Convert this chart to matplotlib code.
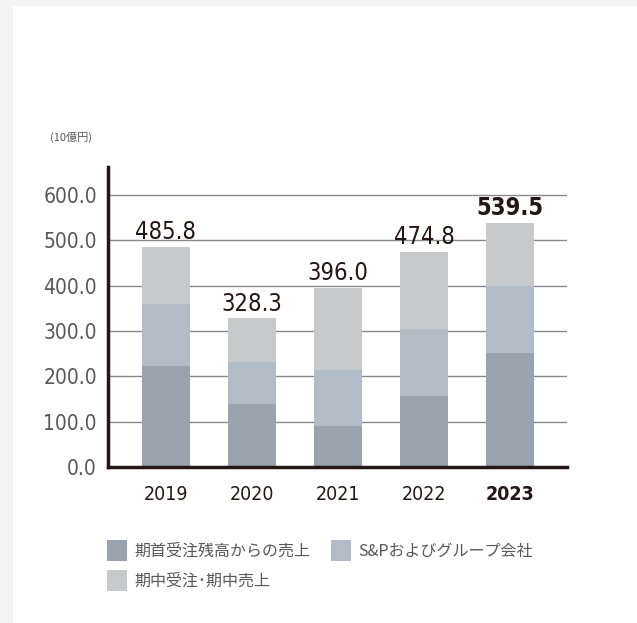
import numpy as np
import matplotlib.pyplot as plt
from matplotlib.patches import Rectangle

plt.rcParams['font.family'] = ['DejaVu Sans']
plt.rcParams['font.stretch'] = 'condensed'

years = ['2019', '2020', '2021', '2022', '2023']
totals = [485.8, 328.3, 396.0, 474.8, 539.5]
backlog = [223, 139, 90, 157, 252]      # 期首受注残高からの売上
group = [137, 93, 124, 148, 148]        # S&Pおよびグループ会社
inperiod = [t - b - g for t, b, g in zip(totals, backlog, group)]  # 期中受注・期中売上

labels = ['期首受注残高からの売上', 'S&Pおよびグループ会社', '期中受注･期中売上']
colors = ['#98a3ae', '#b1bcc6', '#c8c9cb']
yticks = [0, 100, 200, 300, 400, 500, 600]

W, H = 637, 623
fig = plt.figure(figsize=(W / 100, H / 100), dpi=100)
fig.patch.set_facecolor('#f3f3f3')
fig.patches.append(Rectangle((13 / W, 0), 1, 1 - 6 / H, transform=fig.transFigure,
                             facecolor='white', edgecolor='none', zorder=-5))

ax = fig.add_axes([108 / W, 1 - 467 / H, (567 - 108) / W, (467 - 167) / H])
ax.set_facecolor('none')
ax.set_zorder(2)

x = np.arange(len(years))
bw = 0.558
ax.bar(x, backlog, bw, color=colors[0], zorder=3)
ax.bar(x, group, bw, bottom=backlog, color=colors[1], zorder=3)
ax.bar(x, inperiod, bw, bottom=np.add(backlog, group), color=colors[2], zorder=3)

for i, t in enumerate(totals):
    ax.text(x[i], t + 6, f'{t:.1f}', ha='center', va='bottom', fontsize=17,
            color='#231815', fontweight='bold' if i == len(years) - 1 else 'normal',
            zorder=4)

ax.set_xlim(-0.674, 4.663)
ax.set_ylim(0, 662)
ax.set_yticks(yticks)
ax.set_yticklabels([f'{v:.1f}' for v in yticks], fontsize=15, color='#595757')
ax.set_xticks(x)
ax.set_xticklabels(years, fontsize=14, color='#231815')
ax.get_xticklabels()[-1].set_fontweight('bold')
ax.tick_params(length=0, pad=8)
ax.tick_params(axis='x', pad=13)

ax.yaxis.grid(True, color='#8a8a8a', linewidth=1, zorder=1)
for s in ['top', 'right']:
    ax.spines[s].set_visible(False)
for s in ['left', 'bottom']:
    ax.spines[s].set_color('#231815')
    ax.spines[s].set_linewidth(2.5)
    ax.spines[s].set_zorder(5)

fig.text(50 / W, 1 - 137 / H, '(10億円)', fontsize=8, color='#595757',
         family=['Noto Sans CJK JP', 'DejaVu Sans'], ha='left', va='center')

# legend
leg_pos = [(107, 551), (331, 551), (107, 581)]
for (lx, ly), lab, c in zip(leg_pos, labels, colors):
    fig.patches.append(Rectangle((lx / W, 1 - (ly + 10) / H), 20 / W, 21 / H,
                                 transform=fig.transFigure, facecolor=c,
                                 edgecolor='none'))
    fig.text((lx + 27) / W, 1 - ly / H, lab, fontsize=11.5, color='#595757',
             family=['Noto Sans CJK JP', 'DejaVu Sans'], ha='left', va='center')

fig.savefig('out.png', dpi=100)
